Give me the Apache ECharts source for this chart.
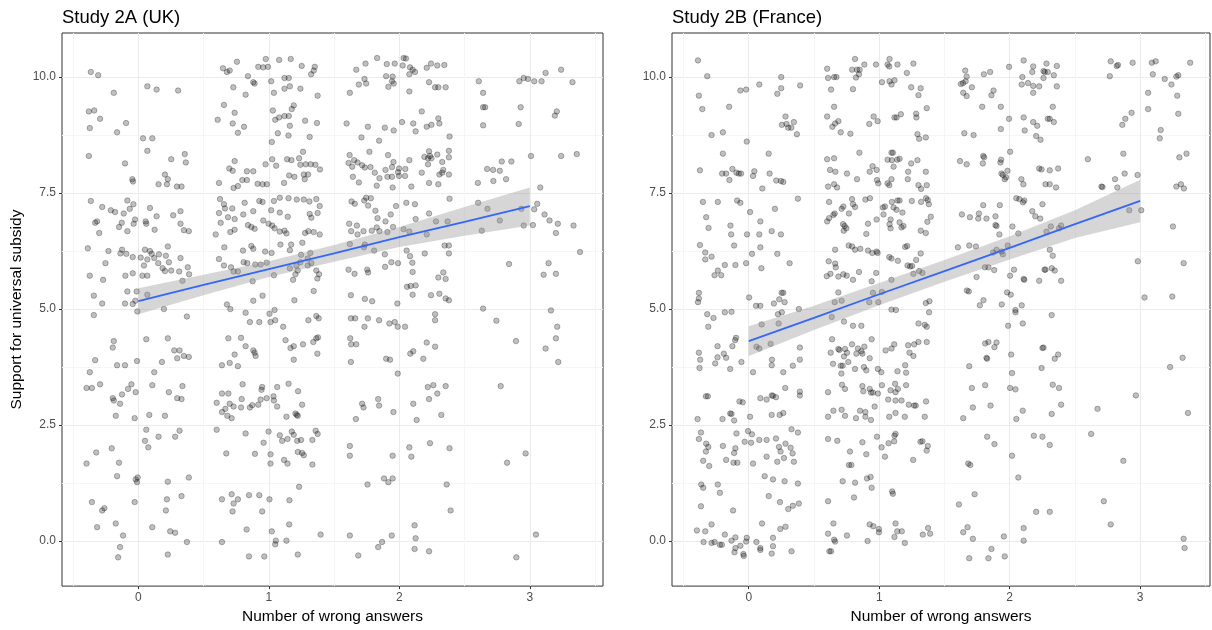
<!DOCTYPE html>
<html><head><meta charset="utf-8">
<script src="https://cdn.jsdelivr.net/npm/echarts@6/dist/echarts.min.js"></script>
<style>html,body{margin:0;padding:0;background:#fff}#c{width:1212px;height:630px}</style>
</head><body><div id="c"></div>
<script>
const panelTitles = ['Study 2A (UK)', 'Study 2B (France)'];
const xAxisTitle = 'Number of wrong answers';
const yAxisTitle = 'Support for universal subsidy';
const xTicks = [0, 1, 2, 3];
const xMinor = [-0.5, 0.5, 1.5, 2.5, 3.5];
const yTicks = [0, 2.5, 5, 7.5, 10];
const yMinor = [1.25, 3.75, 6.25, 8.75];

// jittered (wrong answers, support) pairs
const ukPoints = [
[-0.364,10.11],[-0.308,10.04],[-0.188,9.66],[0.069,9.80],[0.140,9.73],[0.305,9.71],[-0.379,9.26],[-0.338,9.28],[-0.293,9.10],[-0.372,8.90],[-0.094,9.01],[-0.163,8.81],[0.036,8.68],[0.107,8.68],[0.069,8.41],[-0.379,8.30],[-0.102,8.14],[0.252,8.23],[0.356,8.34],[0.364,8.16],[-0.046,7.80],[-0.041,7.75],[0.204,7.90],[0.226,7.80],[0.155,7.69],[0.219,7.69],[0.295,7.64],[0.331,7.64],[-0.364,7.33],[-0.277,7.20],[-0.211,7.13],[-0.178,7.09],[-0.084,7.34],[-0.038,7.26],[-0.066,7.16],[-0.112,7.06],[0.089,7.18],[-0.331,6.86],[-0.316,6.89],[-0.300,6.64],[-0.148,6.77],[-0.127,6.86],[-0.036,6.84],[-0.025,6.93],[-0.084,6.68],[0.056,6.89],[0.061,6.84],[0.140,7.00],[0.125,6.71],[0.267,7.02],[0.323,7.11],[0.323,6.84],[0.349,6.70],[0.387,6.68],[-0.387,6.31],[-0.229,6.25],[-0.137,6.20],[-0.125,6.28],[-0.092,6.19],[-0.043,6.12],[0.018,6.11],[0.051,6.28],[0.089,6.25],[0.102,6.19],[0.069,6.07],[0.122,6.10],[0.158,6.18],[0.211,6.15],[0.226,6.35],[0.153,5.99],[0.043,5.94],[0.186,5.88],[0.204,5.82],[0.234,6.01],[0.323,6.10],[0.252,5.83],[0.313,5.81],[0.379,5.90],[0.389,5.75],[-0.252,5.99],[-0.372,5.72],[-0.270,5.63],[-0.099,5.72],[-0.043,5.77],[0.031,5.72],[0.069,5.72],[0.338,5.61],[-0.341,5.29],[-0.084,5.38],[-0.013,5.38],[0.069,5.31],[-0.277,5.12],[-0.102,5.12],[-0.043,5.11],[-0.023,5.18],[0.196,5.00],
[-0.341,4.87],[-0.008,4.95],[0.372,4.84],[-0.188,4.31],[-0.196,4.17],[0.061,4.35],[0.226,4.37],[0.275,4.11],[0.316,4.11],[0.298,3.94],[0.349,3.99],[0.387,3.97],[-0.331,3.90],[-0.163,3.79],[-0.102,3.79],[-0.010,3.88],[0.181,3.86],[-0.372,3.64],[-0.397,3.30],[-0.356,3.30],[-0.293,3.38],[-0.053,3.38],[-0.079,3.28],[-0.020,3.21],[-0.125,3.16],[-0.196,3.08],[-0.188,3.03],[-0.140,2.96],[0.122,3.64],[0.107,3.36],[0.234,3.21],[0.338,3.34],[0.298,3.08],[0.331,3.06],[-0.173,2.70],[-0.028,2.65],[0.084,2.72],[0.204,2.70],[0.061,2.40],[0.155,2.25],[0.282,2.25],[0.316,2.38],[0.051,2.16],[0.076,2.02],[-0.323,1.91],[-0.204,2.00],[-0.397,1.67],[-0.148,1.69],[-0.163,1.40],[-0.020,1.33],[-0.005,1.37],[-0.010,1.27],[0.226,1.28],[0.387,1.37],[-0.356,0.84],[-0.277,0.66],[-0.260,0.71],[-0.028,0.84],[0.219,0.90],[0.331,0.97],[0.211,0.66],[-0.316,0.30],[-0.173,0.38],[-0.117,0.12],[0.107,0.30],[0.244,0.21],[0.282,0.18],[0.372,-0.02],[-0.140,-0.13],[-0.155,-0.35],[0.226,-0.29],
[0.690,4.37],[0.738,4.02],[0.641,3.79],[0.700,3.84],[0.763,3.77],[0.641,3.18],[0.690,3.18],[0.600,2.98],[0.667,2.85],[0.641,2.78],[0.700,2.96],[0.730,2.90],[0.682,2.70],[0.715,2.65],[0.600,2.40],[0.674,1.89],[0.641,0.90],[0.715,1.01],[0.730,0.81],[0.763,0.90],[0.722,0.64],[0.641,-0.02],
[0.649,10.19],[0.679,10.11],[0.700,10.14],[0.756,10.33],[0.728,9.78],[0.656,9.40],[0.738,9.23],[0.608,9.08],[0.723,9.00],[0.763,8.80],[0.738,8.19],[0.697,8.03],[0.723,7.98],[0.618,7.72],[0.730,7.61],[0.763,7.65],[0.626,7.37],[0.656,7.26],[0.664,7.17],[0.618,7.07],[0.687,6.98],[0.720,7.17],[0.738,6.94],[0.631,6.86],[0.593,6.61],[0.705,6.66],[0.738,6.71],[0.659,6.33],[0.618,6.08],[0.656,5.94],[0.710,5.90],[0.730,5.81],[0.763,5.81],[0.679,5.10],[0.705,5.00],
[0.977,10.39],[1.079,10.37],[1.168,10.39],[0.919,10.22],[0.957,10.21],[0.993,10.22],[1.252,10.24],[1.352,10.22],[1.344,10.14],[1.324,10.06],[0.840,10.02],[0.881,9.89],[0.891,9.86],[1.018,9.91],[1.120,9.98],[1.153,9.98],[0.822,9.62],[1.039,9.66],[1.120,9.75],[1.161,9.80],[1.242,9.75],[1.374,9.60],[1.191,9.39],[1.176,9.31],[1.031,9.28],[1.049,9.08],[1.079,9.13],[1.120,9.16],[1.153,9.16],[1.161,8.95],[1.278,9.06],[1.369,9.01],[0.810,8.93],[1.069,8.79],[1.151,8.74],[1.313,8.71],[1.023,8.60],[1.262,8.39],[1.026,8.23],[1.056,8.09],[1.140,8.23],[1.173,8.21],[1.232,8.25],[1.242,8.11],[1.283,8.12],[1.321,8.12],[1.357,8.11],[1.392,8.01],[0.975,8.12],[1.156,7.88],[1.196,7.85],[1.268,7.90],[1.301,7.90],[1.275,7.80],[1.117,7.72],[0.832,7.97],[0.881,7.97],[0.797,7.78],[0.832,7.78],[0.914,7.70],[0.952,7.69],[0.985,7.69],[0.927,7.33],[0.952,7.31],[1.039,7.33],[1.084,7.40],[1.151,7.39],[1.214,7.36],[1.268,7.36],[1.311,7.32],[1.364,7.37],[1.390,7.22],[0.815,7.29],[0.881,7.11],[0.804,7.04],[1.018,7.13],[1.084,7.08],[1.145,6.99],[1.313,7.05],[1.326,6.97],[1.374,7.07],[0.957,6.91],[0.998,6.84],[1.026,6.80],[1.044,6.74],[1.084,6.67],[1.120,6.69],[1.135,6.63],[1.278,6.64],[1.303,6.68],[1.344,6.66],[1.390,6.61],[0.840,6.81],[0.866,6.77],[0.891,6.73],[1.089,6.39],[1.171,6.39],[1.257,6.43],[1.161,6.27],[0.972,6.24],[1.021,6.21],[0.866,6.36],[0.881,6.30],[0.802,6.26],[1.247,6.17],[1.318,6.21],[1.298,6.09],[1.298,5.94],[1.326,5.99],[1.242,6.01],[1.211,5.94],[1.221,5.83],[1.204,5.75],[1.186,5.63],[1.364,5.83],[1.385,5.75],[1.372,5.66],[0.896,5.96],[0.835,5.99],[0.807,6.01],[0.876,5.60],[0.937,5.96],[0.983,6.00],[1.161,5.88],[1.039,5.73],[0.881,5.18],[0.952,5.29],[1.344,5.39],[1.196,5.19],[1.044,4.98],
[1.830,10.41],[1.741,10.29],[1.670,10.16],[1.904,10.28],[1.965,10.29],[2.033,10.41],[2.051,10.40],[2.026,10.25],[2.082,10.21],[2.102,10.16],[2.120,10.11],[2.077,10.06],[1.899,10.02],[1.949,10.01],[1.733,9.96],[1.690,9.84],[1.746,9.86],[1.944,9.91],[1.957,9.86],[1.916,9.79],[2.077,9.69],[1.621,9.66],[1.596,9.00],[1.759,8.93],[1.889,8.91],[1.957,8.85],[2.021,9.03],[2.107,9.00],[2.125,8.83],[1.710,8.70],[1.845,8.63],[1.771,8.39],[1.914,8.32],[1.619,8.32],[1.654,8.21],[1.680,8.16],[1.611,8.15],[1.639,8.07],[1.715,8.10],[1.736,8.05],[1.779,8.06],[1.812,7.94],[1.848,7.82],[1.894,8.00],[1.944,8.06],[1.955,8.17],[1.998,8.03],[1.990,7.95],[2.046,8.02],[2.077,8.21],[1.998,7.87],[2.044,7.87],[2.092,7.64],[1.644,7.85],[1.690,7.73],[1.827,7.66],[1.909,7.85],[1.944,7.85],[1.949,7.62],[1.634,7.32],[1.659,7.27],[1.731,7.34],[1.746,7.40],[1.782,7.39],[1.761,7.23],[1.817,7.12],[1.833,6.96],[1.894,6.89],[1.934,7.04],[1.975,7.22],[2.054,7.29],[2.120,7.26],[1.616,6.84],[1.675,6.80],[1.631,6.68],[1.680,6.61],[1.726,6.68],[1.789,6.69],[1.827,6.76],[1.848,6.68],[1.909,6.66],[1.952,6.77],[2.033,6.72],[2.077,6.67],[2.125,6.94],[1.621,6.40],[1.736,6.39],[1.728,6.33],[1.807,6.26],[1.889,6.18],[1.939,6.01],[1.891,5.91],[1.990,5.99],[2.056,6.26],[2.082,6.14],[2.100,6.00],[2.102,5.80],[1.611,5.85],[1.754,5.85],[1.761,5.79],[1.657,5.76],[2.059,5.48],[2.087,5.50],[2.125,5.51],[1.629,5.30],[1.736,5.22],[1.792,5.17],[1.985,5.12],[2.102,5.31],
[0.822,4.92],[1.005,4.90],[0.855,4.72],[0.927,4.72],[1.013,4.72],[1.049,4.76],[1.110,4.62],[1.303,4.76],[1.364,4.85],[1.382,4.80],[0.787,4.38],[0.822,4.20],[0.881,4.11],[0.891,4.06],[0.899,3.99],[1.128,4.33],[1.166,4.16],[1.191,4.20],[1.262,4.24],[1.341,4.29],[1.364,4.37],[1.377,4.39],[1.372,4.04],[1.191,3.91],[0.799,3.38],[0.949,3.32],[0.944,3.26],[1.064,3.32],[1.151,3.39],[1.224,3.23],[0.792,3.06],[0.787,2.88],[0.855,2.88],[0.873,2.93],[0.919,2.94],[0.937,3.05],[0.983,3.08],[1.036,3.12],[1.039,3.03],[1.064,2.90],[1.255,2.94],[1.135,2.68],[1.204,2.75],[1.214,2.72],[1.222,2.70],[0.822,2.32],[0.960,2.12],[0.998,2.36],[1.084,2.28],[1.102,2.16],[1.143,2.20],[1.176,2.36],[1.191,2.29],[1.217,2.16],[1.247,2.18],[1.334,2.18],[1.359,2.38],[1.374,2.31],[0.894,1.88],[1.013,1.87],[1.117,1.75],[1.143,1.67],[1.013,1.67],[1.222,1.92],[1.255,1.90],[1.268,1.85],[1.334,1.65],[1.232,1.17],[0.848,0.99],[0.927,0.99],[1.005,0.90],[1.158,0.88],[0.949,0.64],[1.156,0.36],[0.830,0.25],[1.023,0.21],[1.054,0.01],[1.049,-0.07],[1.135,0.01],[1.397,0.14],[0.848,-0.33],[0.965,-0.33],[1.222,-0.29],
[1.629,4.80],[1.662,4.80],[1.759,4.80],[1.733,4.62],[1.845,4.76],[1.924,4.69],[1.965,4.72],[1.988,4.62],[2.044,4.62],[1.624,4.37],[1.631,4.24],[1.670,4.24],[1.629,3.86],[1.899,3.93],[1.929,3.91],[1.988,3.61],[2.084,4.04],[2.107,4.09],[1.715,2.96],[1.726,2.88],[1.838,3.06],[1.845,2.92],[1.667,2.63],[1.955,2.78],[2.107,2.96],[2.133,2.61],[1.621,2.05],[1.621,1.84],[1.949,1.84],[2.077,2.02],[2.092,1.82],[1.756,1.22],[1.883,1.35],[1.916,1.27],[1.949,1.35],[1.621,0.12],[1.685,-0.31],[1.838,-0.13],[1.868,-0.02],[1.942,0.12],[2.117,0.34],[2.125,0.06],[2.117,-0.17],
[2.210,10.20],[2.243,10.29],[2.291,10.25],[2.345,10.26],[2.228,9.89],[2.274,9.78],[2.299,9.78],[2.355,9.78],[2.172,9.26],[2.299,9.11],[2.210,8.93],[2.246,8.97],[2.307,9.00],[2.385,8.72],[2.228,8.40],[2.291,8.33],[2.380,8.41],[2.192,8.28],[2.220,8.25],[2.235,8.30],[2.246,8.25],[2.380,8.27],[2.329,8.17],[2.220,8.12],[2.337,8.00],[2.172,7.94],[2.307,7.90],[2.329,7.94],[2.380,7.90],[2.228,7.72],[2.299,7.69],[2.385,7.38],[2.228,7.06],[2.281,6.89],[2.370,6.89],[2.210,6.61],[2.347,6.37],[2.380,6.37],[2.195,6.20],[2.380,6.20],[2.337,5.79],[2.299,5.68],[2.355,5.65],[2.243,5.30],[2.307,5.33],[2.355,5.23],[2.380,5.19],
[2.609,9.91],[2.642,9.66],[2.642,9.35],[2.658,9.35],[2.642,8.96],[2.920,9.91],[2.953,9.98],[2.986,9.96],[3.034,9.91],[3.090,9.91],[3.121,10.09],[3.240,10.16],[3.327,9.89],[2.930,9.35],[2.915,8.99],[3.207,9.26],[3.192,9.17],[3.009,8.30],[3.240,8.30],[3.360,8.34],[2.785,8.18],[2.859,8.18],[2.673,8.02],[2.719,8.00],[2.770,7.98],[2.721,7.76],[2.818,7.80],[2.602,7.72],[3.080,7.62],[2.604,7.29],[2.676,7.16],[2.770,6.91],[2.935,7.16],[3.034,7.15],[3.057,7.27],[3.113,7.04],[3.151,6.91],[3.215,6.84],[3.200,6.64],[3.335,6.80],[3.024,6.81],[2.953,6.80],[2.632,6.69],[3.385,6.23],[2.841,5.97],[3.144,5.99],[3.106,5.74],[3.200,5.76],[2.642,5.01],[3.162,4.97],
[2.274,4.89],[2.274,4.76],[2.210,4.28],[2.274,4.19],[2.184,3.93],[2.218,3.32],[2.261,3.36],[2.291,3.18],[2.355,3.34],[2.228,3.06],[2.322,2.72],[2.235,2.11],[2.385,2.00],[2.363,1.22],[2.393,0.66],[2.228,-0.22],
[2.744,4.75],[2.894,4.31],[3.210,4.62],[3.200,4.37],[3.121,4.15],[3.218,3.86],[2.777,3.34],[2.968,1.89],[2.826,1.69],[3.047,0.14],[2.897,-0.35]
];

const frPoints = [
[-0.389,10.36],[-0.318,10.02],[-0.382,9.60],[-0.356,9.31],[-0.150,9.36],[-0.064,9.71],[-0.020,9.73],[0.081,9.84],[0.249,10.00],[0.249,9.76],[0.219,9.64],[0.394,9.82],[0.282,9.15],[0.254,8.97],[0.290,8.99],[0.303,8.91],[0.326,8.91],[0.346,9.03],[0.369,8.77],[-0.285,8.75],[-0.198,8.81],[-0.015,8.61],[-0.198,8.35],[0.153,8.35],[-0.374,7.99],[-0.204,7.92],[-0.173,7.92],[-0.125,8.02],[-0.094,7.94],[-0.076,7.92],[-0.059,7.92],[-0.148,7.78],[0.043,7.97],[0.033,7.87],[0.160,7.92],[0.104,7.60],[0.211,7.77],[0.247,7.76],[0.265,7.74],[-0.351,7.31],[-0.237,7.31],[-0.089,7.34],[-0.064,7.29],[-0.326,6.98],[-0.308,6.75],[-0.140,6.80],[-0.135,6.61],[0.010,7.09],[0.089,6.89],[-0.013,6.61],[0.081,6.61],[0.176,6.68],[0.201,7.16],[0.247,6.61],[0.377,7.38],[-0.374,6.38],[-0.112,6.37],[0.089,6.33],[0.025,6.19],[0.219,6.19],[-0.333,6.22],[-0.333,6.07],[-0.285,6.13],[-0.183,5.95],[-0.102,5.95],[-0.020,5.99],[0.097,5.88],[0.313,5.99],[-0.237,5.83],[-0.262,5.73],[-0.211,5.73],[-0.382,5.35],[-0.382,5.23],[-0.389,5.15],[0.003,5.25],[0.056,5.07],[0.089,5.07],[0.193,5.12],[0.234,5.21],[0.252,5.35],[0.265,5.35],[0.275,5.15],[0.384,5.00],
[0.601,10.18],[0.608,9.98],[0.654,10.00],[0.672,10.00],[0.631,9.73],[0.654,9.36],[0.601,9.15],[0.662,9.00],[0.641,8.93],[0.687,9.05],[0.705,8.81],[0.601,8.23],[0.654,8.25],[0.623,8.00],[0.664,7.96],[0.608,7.64],[0.654,7.69],[0.677,7.62],[0.753,7.92],[0.616,7.31],[0.712,7.16],[0.725,7.21],[0.649,7.03],[0.659,7.06],[0.616,6.96],[0.601,6.89],[0.768,7.06],[0.723,6.83],[0.735,6.79],[0.748,6.74],[0.728,6.69],[0.613,6.03],[0.662,5.98],[0.667,5.90],[0.662,6.28],[0.766,6.37],[0.626,5.76],[0.598,5.71],[0.687,5.70],[0.725,5.75],[0.751,5.72],[0.687,5.36],[0.659,5.15],[0.712,5.18],[0.779,8.78],
[-0.318,4.89],[-0.270,4.81],[-0.183,4.93],[-0.132,4.94],[-0.310,4.62],[-0.097,4.38],[-0.104,4.33],[-0.239,4.20],[-0.125,4.20],[-0.382,4.06],[-0.372,3.91],[-0.377,3.73],[-0.239,3.96],[-0.191,4.04],[-0.173,3.95],[-0.257,3.83],[-0.056,3.86],[-0.142,3.71],[0.033,3.64],[0.059,4.19],[0.081,4.15],[0.168,4.25],[0.099,4.67],[0.229,4.69],[0.224,4.89],[0.254,4.93],[0.392,4.17],[0.392,3.91],[0.178,3.91],[0.176,3.79],[0.338,3.78],[0.265,3.64],[-0.328,3.12],[-0.313,3.12],[-0.071,3.01],[-0.046,2.99],[0.089,3.08],[0.137,3.05],[0.176,3.14],[0.186,3.13],[0.209,3.10],[0.280,3.30],[0.392,3.22],[0.392,3.14],[-0.392,2.63],[-0.201,2.63],[-0.142,2.75],[-0.132,2.74],[-0.112,2.60],[0.010,2.68],[0.176,2.72],[0.237,2.72],[0.265,2.76],[-0.366,2.34],[-0.382,2.20],[-0.326,2.10],[-0.310,2.03],[-0.328,1.93],[-0.198,2.05],[-0.094,2.32],[-0.102,2.00],[-0.112,1.90],[-0.005,2.37],[0.025,2.30],[-0.031,2.14],[0.018,2.12],[0.081,2.18],[0.137,2.18],[0.209,2.21],[0.232,2.03],[0.244,1.93],[0.282,2.10],[0.328,2.41],[0.377,2.34],[0.321,2.01],[0.336,1.89],[0.137,1.82],[0.270,1.79],[-0.349,1.73],[-0.303,1.62],[-0.173,1.75],[-0.117,1.69],[-0.087,1.69],[0.033,1.67],[0.219,1.71],[0.346,1.71],[0.122,1.40],[0.186,1.33],[0.275,1.29],[0.377,1.24],[-0.364,1.22],[-0.349,1.15],[-0.237,1.22],[-0.221,1.04],[-0.366,0.75],[-0.120,0.66],[0.153,0.97],[0.239,0.84],[0.303,0.69],[0.338,0.76],[0.384,0.81],[-0.285,0.36],[-0.397,0.23],[-0.333,0.21],[-0.183,0.14],[0.102,0.38],[0.242,0.26],[0.282,0.31],[-0.346,-0.02],[-0.285,-0.04],[-0.262,-0.02],[-0.221,-0.08],[-0.206,-0.08],[-0.132,0.01],[-0.102,0.08],[-0.102,-0.15],[-0.064,-0.10],[-0.015,0.07],[-0.020,-0.01],[-0.109,-0.24],[-0.041,-0.28],[-0.038,-0.32],[0.059,-0.02],[0.089,-0.15],[0.089,-0.19],[0.186,0.07],[0.186,-0.11],[0.176,-0.27],[0.328,-0.22],
[0.639,4.35],[0.628,4.06],[0.687,4.14],[0.695,4.12],[0.738,4.14],[0.753,4.06],[0.730,3.98],[0.646,3.82],[0.705,3.78],[0.720,3.78],[0.710,3.61],[0.763,3.86],[0.636,4.83],[0.730,4.73],[0.608,3.21],[0.649,2.81],[0.715,3.37],[0.738,3.28],[0.712,2.83],[0.738,2.70],[0.608,2.68],[0.608,2.20],[0.679,2.16],[0.776,1.93],[0.720,1.29],[0.608,0.86],[0.649,0.38],[0.608,0.16],[0.654,0.03],[0.662,-0.01],[0.618,-0.22],[0.631,-0.22],[0.753,0.12],[0.768,1.64],
[0.815,10.39],[0.792,10.16],[0.830,10.16],[0.850,10.16],[0.822,9.99],[0.845,10.06],[0.886,10.27],[0.975,10.27],[1.079,10.39],[1.064,10.27],[1.077,10.23],[1.140,10.27],[1.262,10.29],[1.212,10.09],[1.021,9.89],[1.079,9.91],[1.094,9.84],[1.117,9.93],[1.245,9.78],[1.318,9.76],[1.301,9.61],[0.799,9.74],[0.957,9.15],[0.924,8.99],[0.988,9.05],[1.117,9.13],[1.133,9.13],[1.166,9.20],[1.283,9.21],[1.285,9.13],[1.364,9.33],[1.293,8.77],[1.306,8.67],[1.357,8.70],[0.848,8.37],[1.094,8.37],[1.105,8.37],[1.064,8.22],[1.097,8.21],[1.138,8.22],[1.156,8.24],[1.110,8.07],[1.245,8.14],[1.293,8.21],[0.949,8.08],[0.927,7.96],[0.980,8.00],[0.830,7.80],[0.983,7.78],[0.993,7.71],[1.064,7.71],[1.077,7.67],[1.094,7.80],[1.222,7.96],[1.357,7.96],[1.219,7.80],[1.301,7.67],[1.321,7.59],[1.364,7.67],[0.792,7.37],[0.894,7.36],[0.929,7.39],[0.799,7.26],[0.815,7.20],[1.028,7.19],[1.044,7.21],[1.097,7.31],[1.110,7.19],[1.140,7.34],[1.156,7.34],[1.033,7.04],[1.133,7.14],[1.178,7.08],[1.250,7.33],[1.321,7.31],[1.359,7.39],[1.372,7.35],[1.380,7.26],[1.395,6.99],[1.369,6.88],[0.914,6.84],[0.980,6.93],[1.087,6.93],[1.079,6.83],[1.087,6.74],[1.156,6.87],[1.171,6.76],[1.186,6.79],[1.318,6.69],[1.357,6.64],[0.901,6.62],[0.792,6.35],[0.815,6.28],[0.855,6.30],[0.914,6.26],[0.947,6.21],[0.980,6.24],[0.988,6.21],[1.094,6.09],[1.077,6.12],[1.143,6.04],[1.199,6.34],[1.214,6.36],[1.318,6.20],[1.283,6.06],[1.217,5.94],[1.237,5.92],[1.252,5.93],[1.262,5.76],[1.331,5.78],[1.306,5.82],[0.845,5.80],[0.977,5.78],[0.942,5.60],[0.799,5.63],[1.094,5.63],[0.952,5.35],[1.021,5.37],[0.924,5.15],[0.993,5.15],[1.094,4.99],[1.128,4.98],[1.357,5.13],[1.385,5.17],
[1.659,10.14],[1.670,10.01],[1.626,9.85],[1.642,9.87],[1.662,9.91],[1.710,9.78],[1.644,9.66],[1.670,9.59],[1.802,10.06],[1.850,10.11],[1.876,9.71],[1.860,9.61],[1.789,9.36],[1.932,9.36],[1.995,10.22],[2.107,10.36],[2.097,10.00],[2.092,9.84],[2.140,9.87],[1.995,9.10],[2.107,9.13],[2.115,8.85],[1.932,8.88],[1.652,8.79],[1.723,8.75],[2.003,8.39],[1.619,8.19],[1.670,8.12],[1.797,8.30],[1.804,8.27],[1.794,8.14],[1.934,8.22],[1.929,8.16],[1.937,7.92],[1.947,7.89],[1.962,7.80],[1.972,7.84],[1.983,7.98],[2.089,7.80],[2.105,7.69],[1.797,7.24],[1.924,7.24],[1.634,7.04],[1.695,6.98],[1.764,7.06],[1.759,6.95],[1.822,6.95],[1.891,7.00],[1.891,6.81],[1.899,6.79],[2.021,6.78],[2.051,7.39],[2.074,7.37],[2.102,7.30],[2.112,7.34],[1.921,6.61],[2.066,6.63],[1.603,6.33],[1.690,6.37],[1.741,6.35],[1.899,6.28],[1.873,6.22],[1.937,6.24],[1.947,6.18],[1.985,6.37],[1.810,5.90],[1.837,5.90],[1.746,5.69],[1.881,5.84],[2.003,5.72],[2.033,5.85],[2.107,5.65],[2.112,5.63],[1.672,5.40],[1.687,5.38],[1.980,5.36],[2.008,5.31],[1.799,5.19],[1.771,5.08],[1.939,5.10],[2.044,4.98],[2.092,5.08],
[0.799,4.64],[0.863,4.64],[1.382,4.93],[1.301,4.69],[1.349,4.66],[1.364,4.62],[0.942,4.35],[0.792,4.24],[0.837,4.15],[0.886,4.19],[0.863,4.09],[0.825,4.04],[0.871,4.04],[0.927,3.94],[0.883,3.75],[0.901,3.68],[0.815,3.71],[0.990,3.71],[1.016,3.64],[1.049,4.11],[1.094,4.15],[1.115,4.24],[1.222,4.22],[1.232,4.06],[1.262,3.99],[1.268,4.24],[1.301,4.29],[1.364,4.29],[1.199,3.79],[1.206,3.63],[1.140,3.66],[0.871,3.34],[0.878,3.23],[0.927,3.28],[0.937,3.20],[0.952,3.20],[0.990,3.18],[1.021,3.36],[1.087,3.25],[1.122,3.39],[1.125,3.21],[1.143,3.28],[1.206,3.36],[0.853,2.81],[0.894,2.78],[0.937,2.61],[0.822,2.65],[0.894,2.68],[0.965,2.90],[1.069,3.05],[1.125,3.03],[1.171,3.03],[1.227,2.94],[1.268,2.92],[1.280,2.92],[1.359,3.01],[1.125,2.76],[1.077,2.68],[1.196,2.68],[1.349,2.68],[0.871,2.13],[0.983,2.25],[1.018,2.02],[1.044,1.82],[1.072,2.11],[1.115,2.15],[1.117,2.27],[1.125,2.31],[1.260,1.75],[1.316,2.14],[1.331,2.15],[1.372,2.05],[1.364,1.95],[0.901,1.87],[0.787,1.64],[0.815,1.26],[0.807,0.94],[0.906,1.35],[0.934,1.38],[0.942,1.15],[1.099,1.07],[1.105,1.02],[1.125,0.38],[1.138,0.21],[1.173,0.21],[1.117,0.09],[0.998,0.26],[0.998,0.19],[0.955,0.32],[0.927,0.36],[0.911,0.00],[1.196,-0.04],[1.334,0.14],[1.374,0.28],[1.390,0.16],
[1.690,3.77],[1.710,3.30],[1.718,2.88],[1.644,2.65],[1.812,3.36],[1.853,2.92],[1.812,4.26],[1.837,4.29],[1.899,4.28],[1.883,4.18],[1.822,3.95],[1.827,3.93],[1.988,4.64],[2.100,4.69],[2.044,4.93],[2.011,4.02],[2.018,3.62],[2.003,3.30],[2.044,3.27],[2.100,2.81],[2.051,2.63],[1.827,2.25],[1.883,2.09],[2.018,1.84],[2.066,1.37],[1.682,1.67],[1.698,1.64],[1.731,1.01],[1.611,0.79],[1.644,0.19],[1.677,0.30],[1.718,0.05],[1.955,0.10],[1.860,-0.17],[1.690,-0.37],[1.837,-0.37],[1.962,-0.33],[2.107,0.28],[2.107,0.01],
[2.180,10.23],[2.173,10.11],[2.259,10.13],[2.269,10.11],[2.292,10.11],[2.282,10.29],[2.361,10.24],[2.338,10.04],[2.259,9.98],[2.180,9.81],[2.226,9.80],[2.361,9.80],[2.180,9.66],[2.330,9.36],[2.292,9.10],[2.307,9.10],[2.338,9.03],[2.180,9.03],[2.211,8.95],[2.203,8.73],[2.236,8.65],[2.226,8.03],[2.244,8.01],[2.307,7.99],[2.371,8.03],[2.274,7.69],[2.307,7.69],[2.355,7.62],[2.251,7.26],[2.173,7.11],[2.196,7.00],[2.234,6.95],[2.282,6.67],[2.315,6.78],[2.394,6.80],[2.378,6.74],[2.307,6.28],[2.330,6.15],[2.267,5.85],[2.274,5.85],[2.322,5.88],[2.345,5.83],[2.226,5.61],[2.394,5.61],
[2.774,10.34],[2.820,10.24],[2.830,10.26],[2.942,10.31],[2.767,10.02],[2.934,9.23],[2.886,9.10],[2.863,8.97],[3.089,10.31],[3.119,10.34],[3.097,10.06],[3.188,9.96],[3.239,9.84],[3.277,10.01],[3.292,10.04],[3.383,10.31],[3.061,9.66],[3.061,9.31],[3.284,9.60],[3.292,9.21],[3.157,8.86],[3.150,8.68],[2.871,8.35],[2.599,8.23],[3.300,8.27],[3.355,8.35],[2.807,7.80],[2.881,7.92],[2.980,7.89],[2.703,7.64],[2.711,7.63],[2.825,7.62],[3.277,7.64],[3.312,7.69],[3.335,7.60],[2.916,7.13],[3.008,7.13],[3.251,6.78],[2.982,6.03],[3.333,5.99],[3.033,5.25],[3.246,5.27],
[2.322,4.87],[2.251,4.16],[2.259,4.17],[2.371,4.02],[2.345,3.93],[2.244,3.73],[2.330,3.37],[2.378,3.30],[2.394,2.94],[2.322,2.74],[2.185,2.27],[2.251,2.25],[2.307,2.07],[2.203,0.63],[2.307,0.63],
[2.967,3.14],[2.673,2.85],[2.624,2.31],[2.871,1.73],[2.721,0.86],[2.774,0.36],[3.229,3.75],[3.325,3.95],[3.366,2.76],[3.333,0.05],[3.340,-0.15]
];

// linear fit with 95% confidence band
const fitX = [0, 0.5, 1, 1.5, 2, 2.5, 3];
const ukFit = [5.17, 5.52, 5.86, 6.20, 6.55, 6.88, 7.22];
const ukLower = [4.89, 5.30, 5.69, 6.02, 6.34, 6.58, 6.80];
const ukUpper = [5.45, 5.74, 6.03, 6.38, 6.77, 7.20, 7.62];
const frFit = [4.31, 4.81, 5.32, 5.82, 6.32, 6.83, 7.33];
const frLower = [3.99, 4.55, 5.08, 5.59, 6.07, 6.53, 6.87];
const frUpper = [4.63, 5.07, 5.56, 6.06, 6.57, 7.13, 7.79];

const FONT = 'Liberation Sans, Arial, sans-serif';
const panels = [
  { left: 62, width: 541, xmin: -0.585, xmax: 3.561, pts: ukPoints, fit: ukFit, lo: ukLower, hi: ukUpper, yName: yAxisTitle },
  { left: 672, width: 538, xmin: -0.588, xmax: 3.535, pts: frPoints, fit: frFit, lo: frLower, hi: frUpper, yName: '' }
];
const YMIN = -0.97, YMAX = 10.95;

const grids = [], xAxes = [], yAxes = [], series = [], titles = [];
panels.forEach((p, gi) => {
  grids.push({ left: p.left, top: 33, width: p.width, height: 555, show: true, borderColor: '#333333', borderWidth: 1, backgroundColor: '#ffffff', containLabel: false });
  titles.push({ text: panelTitles[gi], left: p.left - 5, top: 3, textStyle: { fontFamily: FONT, fontSize: 18.5, fontWeight: 'normal', color: '#000' } });
  xAxes.push({
    type: 'value', gridIndex: gi, min: p.xmin, max: p.xmax, position: 'bottom',
    axisLine: { show: false, onZero: false },
    axisTick: { show: true, customValues: xTicks, length: 3, lineStyle: { color: '#333333' } },
    axisLabel: { show: true, customValues: xTicks, color: '#4D4D4D', fontFamily: FONT, fontSize: 12, margin: 6 },
    splitLine: { show: true, lineStyle: { color: '#EBEBEB', width: 1 } },
    name: xAxisTitle, nameLocation: 'middle', nameGap: 19,
    nameTextStyle: { fontFamily: FONT, fontSize: 15.5, color: '#000' }
  });
  xAxes.push({
    type: 'value', gridIndex: gi, min: p.xmin, max: p.xmax, position: 'bottom',
    axisLine: { show: false, onZero: false }, axisLabel: { show: false },
    axisTick: { show: false, customValues: xMinor },
    splitLine: { show: true, lineStyle: { color: '#F5F5F5', width: 1 } }
  });
  yAxes.push({
    type: 'value', gridIndex: gi, min: YMIN, max: YMAX, position: 'left',
    axisLine: { show: false, onZero: false },
    axisTick: { show: true, customValues: yTicks, length: 3, lineStyle: { color: '#333333' } },
    axisLabel: { show: true, customValues: yTicks, color: '#4D4D4D', fontFamily: FONT, fontSize: 12, margin: 6, formatter: v => Number(v).toFixed(1) },
    splitLine: { show: true, lineStyle: { color: '#EBEBEB', width: 1 } },
    name: p.yName, nameLocation: 'middle', nameGap: 37, nameRotate: 90,
    nameTextStyle: { fontFamily: FONT, fontSize: 15.5, color: '#000' }
  });
  yAxes.push({
    type: 'value', gridIndex: gi, min: YMIN, max: YMAX, position: 'left',
    axisLine: { show: false, onZero: false }, axisLabel: { show: false },
    axisTick: { show: false, customValues: yMinor },
    splitLine: { show: true, lineStyle: { color: '#F5F5F5', width: 1 } }
  });
  const xi = gi * 2, yi = gi * 2;
  series.push({
    type: 'scatter', xAxisIndex: xi, yAxisIndex: yi, data: p.pts, symbol: 'circle', symbolSize: 5.5,
    itemStyle: { color: 'rgba(0,0,0,0.25)', borderColor: 'rgba(0,0,0,0.38)', borderWidth: 0.7, opacity: 1 },
    z: 2, silent: true
  });
  const rows = fitX.map((x, i) => [x, p.lo[i], p.hi[i]]);
  series.push({
    type: 'custom', xAxisIndex: xi, yAxisIndex: yi, data: rows, encode: { x: 0, y: [1, 2] }, z: 3, silent: true,
    renderItem: (params, api) => {
      if (params.dataIndex !== 0) return null;
      const pts = rows.map(r => api.coord([r[0], r[2]]));
      for (let i = rows.length - 1; i >= 0; i--) pts.push(api.coord([rows[i][0], rows[i][1]]));
      return { type: 'polygon', shape: { points: pts }, style: { fill: 'rgba(153,153,153,0.4)' } };
    }
  });
  series.push({
    type: 'line', xAxisIndex: xi, yAxisIndex: yi, data: fitX.map((x, i) => [x, p.fit[i]]),
    symbol: 'none', lineStyle: { color: '#3366FF', width: 1.8 }, z: 4, silent: true
  });
});

const chart = echarts.init(document.getElementById('c'), null, { renderer: 'canvas' });
chart.setOption({
  animation: false,
  backgroundColor: '#ffffff',
  title: titles,
  grid: grids,
  xAxis: xAxes,
  yAxis: yAxes,
  series: series
});
</script>
</body></html>
